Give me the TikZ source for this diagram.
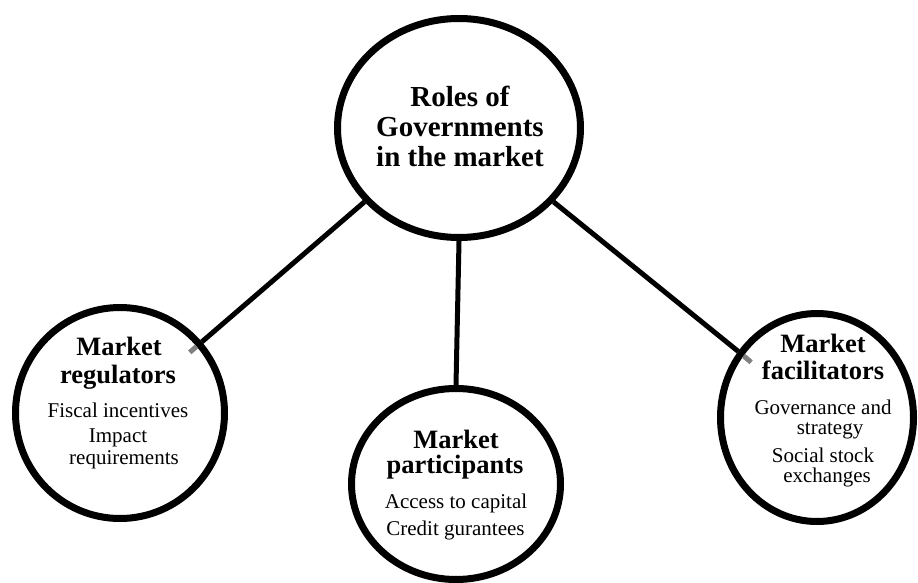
\documentclass[tikz,border=0pt]{standalone}
\usepackage{fontspec}
\setmainfont{Liberation Serif}
\usetikzlibrary{shapes.geometric,calc}
\tikzset{
  ring/.style={ellipse, draw, line width=7pt, fill=white, inner sep=0pt},
  conn/.style={line width=5pt},
  stub/.style={line width=5pt, draw=gray},
  ttl/.style={font=\fontsize{29}{30}\selectfont\bfseries, anchor=base, inner sep=0pt},
  sub/.style={font=\fontsize{26.5}{28}\selectfont\bfseries, anchor=base, inner sep=0pt},
  body/.style={font=\fontsize{21}{23}\selectfont, anchor=base, inner sep=0pt},
}
\begin{document}
\begin{tikzpicture}[x=1pt,y=-1pt]
\useasboundingbox (0,0) rectangle (918,583);
\node[ring, minimum width=243pt, minimum height=219pt] (top) at (459,128) {};
\node[ring, minimum width=209pt, minimum height=211pt] (left) at (120,413) {};
\node[ring, minimum width=209pt, minimum height=191pt] (mid) at (456,484) {};
\node[ring, minimum width=193pt, minimum height=208pt] (right) at (817,417.5) {};
\draw[conn] (top.218) -- (left.41);
\draw[conn] (top.south) -- (mid.north);
\draw[conn] (top.322) -- (right.140);
\draw[stub] ($(left.41)!7pt!(left.center)$) -- ($(left.41)!16pt!(left.center)$);
\draw[stub] ($(right.140)!7pt!(right.center)$) -- ($(right.140)!17pt!(right.center)$);
\node[ttl] (t1) at (460,107) {Roles of};
\node[ttl] (t2) at (460,137) {Governments};
\node[ttl] (t3) at (460,167) {in the market};
\node[sub] (l1) at (119,355) {Market};
\node[sub] (l2) at (118,383) {regulators};
\node[body] (l3) at (118,417) {Fiscal incentives};
\node[body] (l4) at (118,442) {Impact};
\node[body] (l5) at (124,464) {requirements};
\node[sub] (m1) at (456,448) {Market};
\node[sub] (m2) at (455,473) {participants};
\node[body] (m3) at (456,508) {Access to capital};
\node[body] (m4) at (455.5,535) {Credit gurantees};
\node[sub] (r1) at (823,352) {Market};
\node[sub] (r2) at (823,379) {facilitators};
\node[body] (r3) at (823,414) {Governance and};
\node[body] (r4) at (830,434) {strategy};
\node[body] (r5) at (823,462) {Social stock};
\node[body] (r6) at (827,482) {exchanges};
\end{tikzpicture}
\end{document}
